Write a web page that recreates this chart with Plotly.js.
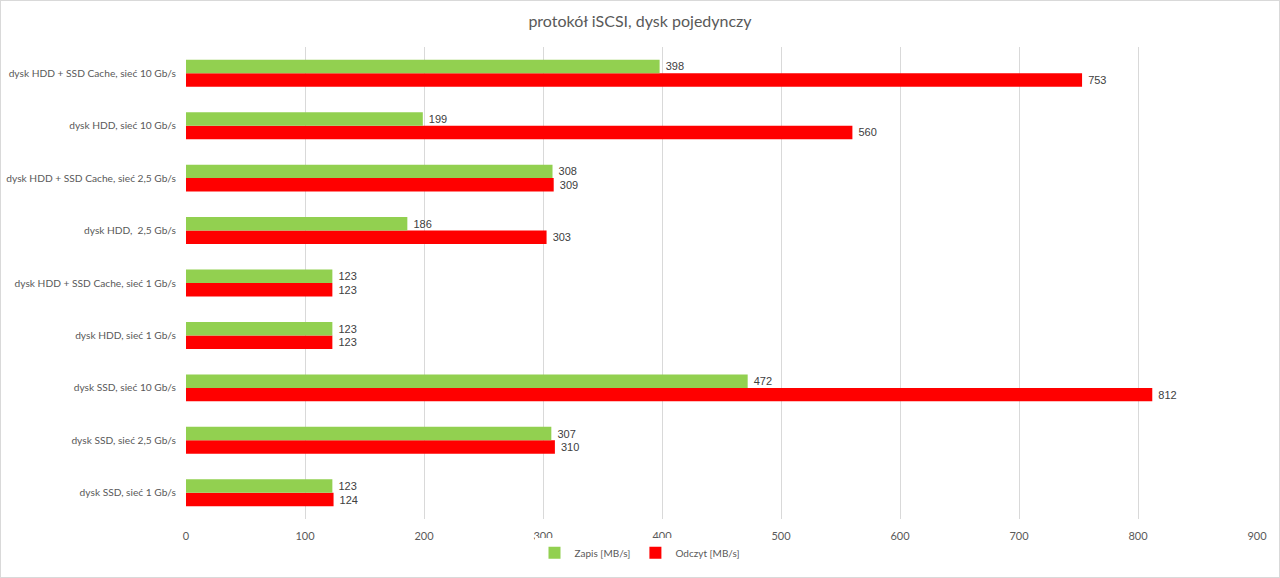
<!DOCTYPE html>
<html><head><meta charset="utf-8">
<script src="https://cdn.plot.ly/plotly-3.0.1.min.js"></script>
<style>html,body{margin:0;padding:0;background:#fff}#c{width:1278px;height:576px;border:1px solid #d9d9d9}</style>
</head><body><div id="c"></div>
<script>
const categories = [
  "dysk SSD, sieć 1 Gb/s",
  "dysk SSD, sieć 2,5 Gb/s",
  "dysk SSD, sieć 10 Gb/s",
  "dysk HDD, sieć 1 Gb/s",
  "dysk HDD + SSD Cache, sieć 1 Gb/s",
  "dysk HDD,  2,5 Gb/s",
  "dysk HDD + SSD Cache, sieć 2,5 Gb/s",
  "dysk HDD, sieć 10 Gb/s",
  "dysk HDD + SSD Cache, sieć 10 Gb/s"
];
const zapis = [123, 307, 472, 123, 123, 186, 308, 199, 398];
const odczyt = [124, 310, 812, 123, 123, 303, 309, 560, 753];
const xTicks = [0,100,200,300,400,500,600,700,800,900];

const cats = categories.map(c=>c.replace(/ /g,'\u00a0'));
const lab = {size: 11, color: '#404040', family: 'Liberation Sans, Arial, sans-serif'};
const traces = [
  {type:'bar', orientation:'h', name:'Odczyt [MB/s]', y:cats, x:odczyt,
   marker:{color:'#ff0000'}, text:odczyt.map(v=>' '+v), textposition:'outside', textfont:lab, cliponaxis:false, hoverinfo:'x'},
  {type:'bar', orientation:'h', name:'Zapis [MB/s]', y:cats, x:zapis,
   marker:{color:'#92d050'}, text:zapis.map(v=>' '+v), textposition:'outside', textfont:lab, cliponaxis:false, hoverinfo:'x'}
];
const layout = {
  width:1278, height:576,
  margin:{l:185, r:22, t:46, b:58},
  paper_bgcolor:'#fff', plot_bgcolor:'#fff',
  font:{family:'Lato, Open Sans, sans-serif', color:'#595959', size:11},
  title:{text:'protokół iSCSI, dysk pojedynczy', x:0.5, xanchor:'center', y:0.965, yanchor:'middle',
         font:{size:16, color:'#595959', family:'Lato, Open Sans, sans-serif'}},
  barmode:'group', bargap:0.486, bargroupgap:0,
  xaxis:{range:[0,900], tickvals:xTicks, ticktext:xTicks.map(String), showgrid:true, gridcolor:'#d9d9d9', gridwidth:1,
         zeroline:false, showline:false, ticks:'', ticklabelstandoff:9, tickfont:{size:11, color:'#595959'}, automargin:false},
  yaxis:{type:'category', categoryorder:'array', categoryarray:cats, showgrid:false, zeroline:false, showline:false,
         ticks:'', ticklabelstandoff:9, tickfont:{size:10.2, color:'#595959'}, automargin:false},
  showlegend:true,
  legend:{orientation:'h', xref:'container', x:0.5, xanchor:'center', yref:'container', y:0.042, yanchor:'middle', traceorder:'reversed',
          font:{size:10, color:'#595959'}, itemwidth:30}
};
Plotly.newPlot('c', traces, layout, {displayModeBar:false, staticPlot:true});
</script></body></html>
